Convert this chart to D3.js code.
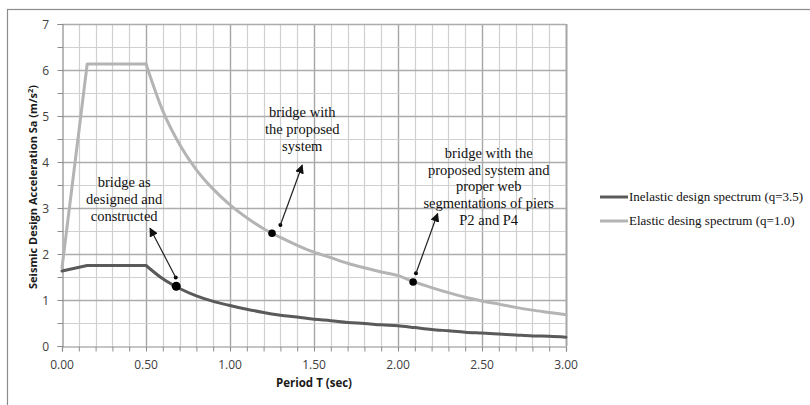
<!DOCTYPE html>
<html>
<head>
<meta charset="utf-8">
<script src="https://cdn.jsdelivr.net/npm/d3@7"></script>
<style>
  html, body { margin: 0; padding: 0; background: #fff; }
  svg { display: block; }
</style>
</head>
<body>
<svg id="chart" width="810" height="405"></svg>
<script>
// Period axis samples (sec)
const periods = [0, 0.15, 0.5, 0.6, 0.7, 0.8, 0.9, 1.0, 1.1, 1.2, 1.3, 1.4, 1.5,
  1.6, 1.7, 1.8, 1.9, 2.0, 2.1, 2.2, 2.3, 2.4, 2.5, 2.6, 2.7, 2.8, 2.9, 3.0];

// Inelastic design spectrum (q=3.5), m/s^2
const inelastic = [1.63, 1.75, 1.75, 1.46, 1.25, 1.09, 0.97, 0.88, 0.80, 0.73, 0.67, 0.63, 0.58,
  0.55, 0.51, 0.49, 0.46, 0.44, 0.40, 0.36, 0.33, 0.30, 0.28, 0.26, 0.24, 0.22, 0.21, 0.19];

// Elastic spectrum (q=1.0), m/s^2
const elastic = [1.70, 6.13, 6.13, 5.11, 4.38, 3.83, 3.41, 3.07, 2.79, 2.55, 2.36, 2.19, 2.04,
  1.92, 1.80, 1.70, 1.61, 1.53, 1.39, 1.27, 1.16, 1.06, 0.98, 0.91, 0.84, 0.78, 0.73, 0.68];

const seriesNames = ["Inelastic design spectrum (q=3.5)", "Elastic desing spectrum (q=1.0)"];

const xTicks = [0, 0.5, 1.0, 1.5, 2.0, 2.5, 3.0];
const yTicks = [0, 1, 2, 3, 4, 5, 6, 7];

// Marked bridge configurations: point on a spectrum, arrow tail/head, label lines
const markedT = [0.68, 1.25, 2.09];
const markedSa = [1.30, 2.45, 1.39];
const arrowFrom = [[0.677, 1.49], [1.30, 2.63], [2.107, 1.58]];
const arrowTo = [[0.524, 2.56], [1.43, 3.93], [2.236, 2.88]];
const noteAt = [[0.37, 3.45], [1.43, 4.97], [2.54, 4.09]];
const noteLines = [
  ["bridge as", "designed and", "constructed"],
  ["bridge with", "the proposed", "system"],
  ["bridge with the", "proposed system and", "proper web", "segmentations of piers", "P2 and P4"]
];

const svg = d3.select("#chart");

// outer chart frame
svg.append("rect")
  .attr("x", 7.5).attr("y", 9.5).attr("width", 830).attr("height", 420)
  .attr("fill", "none").attr("stroke", "#8c8c8c").attr("stroke-width", 1.2);

const x = d3.scaleLinear().domain([0, 3]).range([62, 566]);
const y = d3.scaleLinear().domain([0, 7]).range([346, 24]);

const grid = svg.append("g");
// vertical grid every 0.1 sec, darker every 0.5
d3.range(1, 31).forEach(i => {
  const major = i % 5 === 0;
  grid.append("line")
    .attr("x1", Math.round(x(i / 10)) + 0.5).attr("x2", Math.round(x(i / 10)) + 0.5)
    .attr("y1", y(7)).attr("y2", y(0))
    .attr("stroke", major ? "#a6a6a6" : "#d0d0d0")
    .attr("stroke-width", i === 30 ? 2 : (major ? 1.4 : 1.2));
});
// horizontal grid every 0.5, darker on integers
d3.range(1, 15).forEach(i => {
  const major = i % 2 === 0;
  grid.append("line")
    .attr("x1", x(0)).attr("x2", x(3))
    .attr("y1", Math.round(y(i / 2)) + 0.5).attr("y2", Math.round(y(i / 2)) + 0.5)
    .attr("stroke", major ? "#acacac" : "#d0d0d0")
    .attr("stroke-width", major ? 1.4 : 1.2);
});

// x axis: tick marks every 0.1, labels every 0.5
const xAxis = svg.append("g").attr("transform", `translate(0,${y(0) + 0.5})`)
  .call(d3.axisBottom(x).tickValues(d3.range(0, 31).map(i => i / 10)).tickSize(5).tickFormat(""));
xAxis.select(".domain").attr("stroke", "#8c8c8c").attr("stroke-width", 1.2);
xAxis.selectAll(".tick line").attr("stroke", "#8c8c8c");

svg.append("g").selectAll("text").data(xTicks).join("text")
  .attr("x", d => x(d)).attr("y", 369)
  .attr("text-anchor", "middle")
  .attr("font-family", "'Open Sans', sans-serif").attr("font-size", 12)
  .attr("fill", "#404040")
  .text(d => d.toFixed(2));

// y axis: tick marks every 0.5, labels on integers
const yAxis = svg.append("g").attr("transform", `translate(${x(0) + 0.5},0)`)
  .call(d3.axisLeft(y).tickValues(d3.range(0, 15).map(i => i / 2)).tickSize(5).tickFormat(""));
yAxis.select(".domain").attr("stroke", "#8c8c8c").attr("stroke-width", 1.2);
yAxis.selectAll(".tick line").attr("stroke", "#8c8c8c");

svg.append("g").selectAll("text").data(yTicks).join("text")
  .attr("x", 49).attr("y", d => y(d) + 4.5)
  .attr("text-anchor", "end")
  .attr("font-family", "'Open Sans', sans-serif").attr("font-size", 12)
  .attr("fill", "#404040")
  .text(d => d);

// axis titles
svg.append("text")
  .attr("x", x(1.5)).attr("y", 387)
  .attr("text-anchor", "middle")
  .attr("font-family", "'Open Sans', sans-serif").attr("font-size", 11.5).attr("font-weight", "bold")
  .attr("fill", "#1a1a1a")
  .text("Period T (sec)");

const yTitle = svg.append("text")
  .attr("transform", "translate(37,187) rotate(-90)")
  .attr("text-anchor", "middle")
  .attr("font-family", "'Open Sans', sans-serif").attr("font-size", 11).attr("font-weight", "bold")
  .attr("fill", "#1a1a1a");
yTitle.append("tspan").text("Seismic Design Acceleration Sa  (m/s");
yTitle.append("tspan").attr("font-size", 7.5).attr("dy", -4).text("2");
yTitle.append("tspan").attr("dy", 4).text(")");

// spectra: straight segments up to the plateau end, smooth decay after it
function drawSpectrum(values, color) {
  const pts = periods.map((t, i) => [t, values[i]]);
  const head = pts.filter(p => p[0] <= 0.5);
  const tail = pts.filter(p => p[0] >= 0.5);
  const lin = d3.line().x(p => x(p[0])).y(p => y(p[1]));
  const smooth = d3.line().x(p => x(p[0])).y(p => y(p[1])).curve(d3.curveMonotoneX);
  const g = svg.append("g").attr("fill", "none").attr("stroke", color)
    .attr("stroke-width", 3).attr("stroke-linejoin", "round").attr("stroke-linecap", "round");
  g.append("path").attr("d", lin(head));
  g.append("path").attr("d", smooth(tail));
}
drawSpectrum(elastic, "#b4b4b4");
drawSpectrum(inelastic, "#5a5a5a");

// arrowhead marker
svg.append("defs").append("marker")
  .attr("id", "arrow").attr("viewBox", "0 0 10 10")
  .attr("refX", 9).attr("refY", 5)
  .attr("markerWidth", 9).attr("markerHeight", 9)
  .attr("markerUnits", "userSpaceOnUse")
  .attr("orient", "auto")
  .append("path").attr("d", "M0,0 L10,5 L0,10 Z").attr("fill", "#111");

const notes = svg.append("g");
markedT.forEach((t, i) => {
  notes.append("circle").attr("cx", x(t)).attr("cy", y(markedSa[i]))
    .attr("r", i === 0 ? 4.5 : 3.8).attr("fill", "#000");
  notes.append("circle").attr("cx", x(arrowFrom[i][0])).attr("cy", y(arrowFrom[i][1]))
    .attr("r", 2).attr("fill", "#000");
  notes.append("line")
    .attr("x1", x(arrowFrom[i][0])).attr("y1", y(arrowFrom[i][1]))
    .attr("x2", x(arrowTo[i][0])).attr("y2", y(arrowTo[i][1]))
    .attr("stroke", "#222").attr("stroke-width", 1.2)
    .attr("marker-end", "url(#arrow)");
  const txt = notes.append("text")
    .attr("x", x(noteAt[i][0])).attr("y", y(noteAt[i][1]))
    .attr("text-anchor", "middle")
    .attr("font-family", "'Liberation Serif', 'Times New Roman', serif").attr("font-size", 14.5)
    .attr("fill", "#111");
  noteLines[i].forEach((line, k) => {
    txt.append("tspan").attr("x", x(noteAt[i][0])).attr("dy", k === 0 ? 0 : 16.7).text(line);
  });
});

// legend
const legend = svg.append("g");
const legendColors = ["#5a5a5a", "#b4b4b4"];
seriesNames.forEach((name, i) => {
  const ly = 197 + i * 24;
  legend.append("line").attr("x1", 600).attr("x2", 628).attr("y1", ly).attr("y2", ly)
    .attr("stroke", legendColors[i]).attr("stroke-width", 3);
  legend.append("text").attr("x", 629).attr("y", ly + 4)
    .attr("font-family", "'Liberation Serif', 'Times New Roman', serif").attr("font-size", 13)
    .attr("fill", "#111")
    .text(name);
});
</script>
</body>
</html>
